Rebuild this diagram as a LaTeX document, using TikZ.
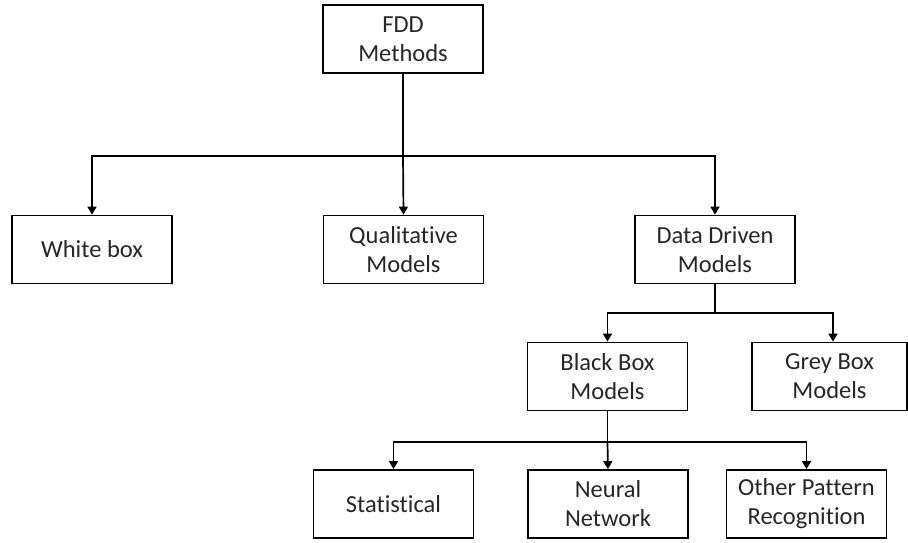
\documentclass[tikz,border=0pt]{standalone}
\usepackage{fontspec}
\setmainfont{Carlito}[Ligatures=NoCommon]
\usetikzlibrary{arrows.meta}
\definecolor{inkgrey}{HTML}{262626}
\tikzset{
  box/.style={draw=black, line width=1.8pt, minimum width=160pt, minimum height=68pt,
    inner sep=0pt, align=center, text=inkgrey, font=\fontsize{24.5}{29}\selectfont},
  link/.style={draw=black, line width=1.7pt},
  arr/.style={link, -{Triangle[width=9pt,length=8pt]}}
}
\begin{document}
\begin{tikzpicture}[x=1pt,y=-1pt]
  \useasboundingbox (0,0) rectangle (908,542);

  % top level
  \node[box] (fdd) at (403,39) {FDD\\Methods};

  % first level
  \node[box] (white) at (92,249.5) {White box};
  \node[box] (qual) at (403.5,249.5) {Qualitative\\Models};
  \node[box] (data) at (715,249.5) {Data Driven\\Models};

  % data driven branch
  \node[box] (black) at (607.5,376.5) {Black Box\\Models};
  \node[box, minimum width=155pt] (grey) at (829.5,376.5) {Grey Box\\Models};

  % black box branch
  \node[box] (stat) at (393.5,504) {Statistical};
  \node[box] (neural) at (608,504) {Neural\\Network};
  \node[box] (other) at (806.5,504) {Other Pattern\\Recognition};

  % bus junctions
  \coordinate (bus1) at (403,156);
  \coordinate (bus2) at (715,313);
  \coordinate (bus3) at (607.5,442);

  \draw[link] (fdd.south) -- (bus1);
  \draw[arr] (bus1) -| (white.north);
  \draw[arr] (bus1) -| (data.north);
  \draw[arr] (bus1) -- (qual.north);

  \draw[link] (data.south) -- (bus2);
  \draw[arr] (bus2) -| (black.north);
  \draw[arr] (bus2) -| ([xshift=3.5pt]grey.north);

  \draw[link] (black.south) -- (bus3);
  \draw[arr] (bus3) -| (stat.north);
  \draw[arr] (bus3) -| (other.north);
  \draw[arr] (bus3) -- (neural.north);
\end{tikzpicture}
\end{document}
